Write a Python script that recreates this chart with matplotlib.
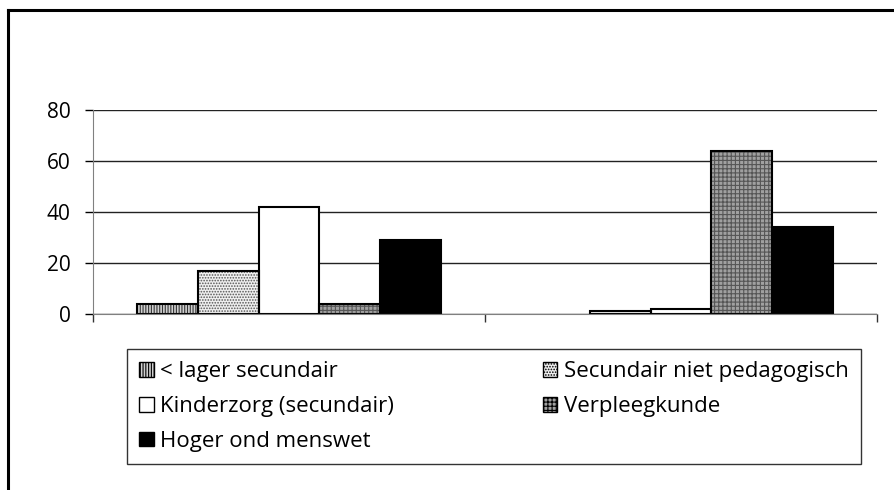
import matplotlib.pyplot as plt
from matplotlib.lines import Line2D
from matplotlib.patches import Patch
import numpy as np

# ── Data ──
series = ["< lager secundair", "Secundair niet pedagogisch", "Kinderzorg (secundair)",
          "Verpleegkunde", "Hoger ond menswet"]
group1 = [4, 17, 42, 4, 29]
group2 = [0, 1, 2, 64, 34]
yticks = [0, 20, 40, 60, 80]

# ── Styles per series: (facecolor, hatch, hatchcolor) ──
styles = [
    ("#d0d0d0", "||||||", "#333333"),
    ("#f0f0f0", "......", "#555555"),
    ("white", "", "white"),
    ("#a0a0a0", "++++", "#555555"),
    ("black", "", "black"),
]

plt.rcParams["font.family"] = ["Open Sans", "DejaVu Sans"]
plt.rcParams["hatch.linewidth"] = 0.8

fig = plt.figure(figsize=(8.95, 4.9), dpi=100)
ax = fig.add_axes([93 / 895, 1 - 314 / 490, (877 - 93) / 895, (314 - 110) / 490])

width = 0.155
centers = np.array([0.5, 1.5])
for i, (face, hatch, hcol) in enumerate(styles):
    vals = np.array([group1[i], group2[i]])
    xs = centers + (i - 2) * width
    keep = vals > 0
    ax.bar(xs[keep], vals[keep], width, color=face, hatch=hatch, edgecolor=hcol, linewidth=0, zorder=3)
    ax.bar(xs[keep], vals[keep], width, fill=False, edgecolor="black", linewidth=1.5, zorder=4)

ax.set_xlim(0, 2)
ax.set_ylim(0, 80)
ax.set_yticks(yticks)
ax.set_xticks([0, 1, 2])
ax.set_xticklabels([])
ax.tick_params(axis="y", length=6, width=1, labelsize=15, pad=10)
ax.tick_params(axis="x", length=6, width=1, color="#333333")
ax.grid(axis="y", color="#222222", linewidth=1, zorder=0)
for s in ["top", "right"]:
    ax.spines[s].set_visible(False)
ax.spines["left"].set_color("#808080")
ax.spines["bottom"].set_color("#808080")
ax.spines["bottom"].set_zorder(5)

# ── Legend (column-wise order: lager, Kinderzorg, Hoger | Secundair, Verpleeg) ──
handles = [Patch(facecolor=f, hatch=h, edgecolor="black", linewidth=1) for f, h, _ in styles]
order = [0, 2, 4, 1, 3]
leg = fig.legend([handles[k] for k in order], [series[k] for k in order],
                 loc="upper left", ncol=2, mode="expand",
                 bbox_to_anchor=(127 / 895, 1 - 349 / 490, (861 - 127) / 895, 0.0),
                 fontsize=16, frameon=True, fancybox=False, edgecolor="black",
                 handlelength=0.65, handleheight=0.65, handletextpad=0.3,
                 labelspacing=0.62, borderpad=0.55, borderaxespad=0)
leg.get_frame().set_linewidth(1)

# ── Frame lines (top and left) ──
fig.add_artist(Line2D([8 / 895, 1], [1 - 10 / 490, 1 - 10 / 490], color="black", linewidth=2.2))
fig.add_artist(Line2D([8 / 895, 8 / 895], [0, 1 - 10 / 490], color="black", linewidth=2.2))

plt.savefig("out.png", dpi=100)
